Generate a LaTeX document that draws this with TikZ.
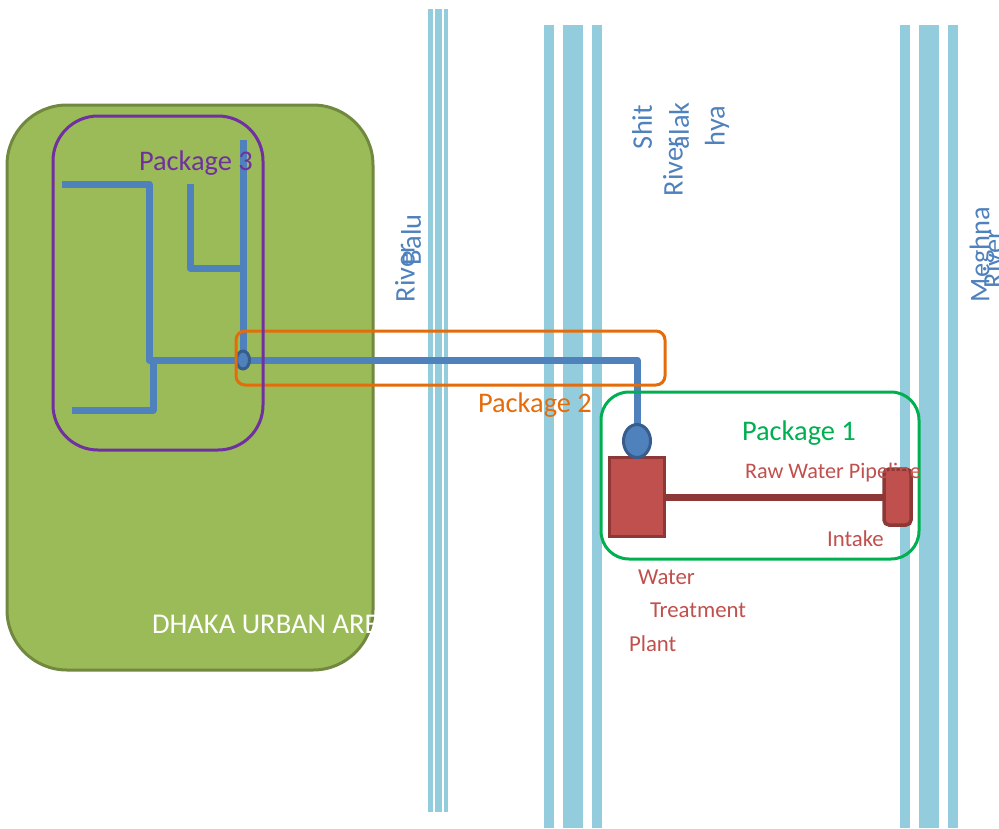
\documentclass[tikz,border=0pt]{standalone}
\usepackage{fontspec}
\setmainfont{Carlito}
\usetikzlibrary{shapes.geometric}
\definecolor{riv}{HTML}{93CDDD}
\definecolor{pipeblue}{HTML}{4F81BD}
\definecolor{pipeedge}{HTML}{385D8A}
\definecolor{landfill}{HTML}{9BBB59}
\definecolor{landedge}{HTML}{71893F}
\definecolor{redfill}{HTML}{C0504D}
\definecolor{rededge}{HTML}{8C3836}
\definecolor{pk1}{HTML}{00B050}
\definecolor{pk2}{HTML}{E46C0A}
\definecolor{pk3}{HTML}{7030A0}
\tikzset{
  river/.style={fill=riv,draw=none,rectangle,inner sep=0pt,outer sep=0pt},
  pipe/.style={draw=pipeblue,line width=7pt,line join=round},
  rawpipe/.style={draw=rededge,line width=7pt},
  pack/.style={rectangle,draw=#1,line width=3pt,inner sep=0pt,outer sep=0pt,fill=none},
  lab/.style={font=\fontsize{#1}{#1}\selectfont,inner sep=0pt,outer sep=0pt},
  rivlab/.style={lab=28.4,text=pipeblue,rotate=90},
  redlab/.style={lab=22.8,text=redfill},
}
\newcommand{\stripe}[5]{\node[river,minimum width=#3pt-#2pt,minimum height=#5pt-#4pt] (#1) at ({(#2+#3)/2},{(#4+#5)/2}) {};}
\begin{document}
\begin{tikzpicture}[x=1pt,y=-1pt]
\useasboundingbox (0,0) rectangle (999,828);
% rivers
\stripe{ba}{428}{433}{9}{812}
\stripe{bb}{435}{442}{9}{812}
\stripe{bc}{444}{448}{9}{812}
\stripe{sa}{544}{554}{25}{828}
\stripe{sb}{563}{583}{25}{828}
\stripe{sc}{592}{602}{25}{828}
\stripe{ma}{900}{910}{25}{828}
\stripe{mb}{919}{939}{25}{828}
\stripe{mc}{948}{958}{25}{828}
% land
\node[rectangle,fill=landfill,draw=landedge,line width=3pt,rounded corners=60pt,inner sep=0pt,minimum width=366pt,minimum height=565pt] (land) at (190,387.5) {};
\node[lab=28.6,text=white,anchor=west] (dhaka) at (152,624) {DHAKA URBAN AREA};
% junctions
\coordinate (a1) at (62,184);
\coordinate (a2) at (149,184);
\coordinate (a3) at (149,360);
\coordinate (b1) at (243,140);
\coordinate (c1) at (190,184);
\coordinate (c2) at (190,268);
\coordinate (c3) at (243,268);
\coordinate (d1) at (72,410);
\coordinate (d2) at (153,410);
\coordinate (d3) at (153,360);
\coordinate (e1) at (637,360);
% plant parts
\node[rectangle,fill=redfill,draw=rededge,line width=3.5pt,inner sep=0pt,outer sep=0pt,minimum width=55pt,minimum height=79pt] (wtp) at (637,497) {};
\node[rectangle,fill=redfill,draw=rededge,line width=3.5pt,rounded corners=5pt,inner sep=0pt,outer sep=0pt,minimum width=27pt,minimum height=56pt] (intake) at (897.5,497) {};
% pipes
\draw[pipe] (a1) -- (a2) -- (a3) -- (e1) -- (637,425);
\draw[pipe] (b1) -- (243,360);
\draw[pipe] (c1) -- (c2) -- (c3);
\draw[pipe] (d1) -- (d2) -- (d3);
\draw[rawpipe] (wtp.east) -- (intake.west);
\node[ellipse,fill=pipeblue,draw=pipeedge,line width=3pt,inner sep=0pt,outer sep=0pt,minimum width=27pt,minimum height=33pt] (res) at (637,441) {};
\node[ellipse,fill=pipeblue,draw=pipeedge,line width=3pt,inner sep=0pt,outer sep=0pt,minimum width=13pt,minimum height=18pt] (pump) at (243,360) {};
% packages
\node[pack=pk2,rounded corners=9pt,minimum width=429pt,minimum height=54pt] (p2) at (450.5,358) {};
\node[pack=pk3,rounded corners=45pt,minimum width=210pt,minimum height=334pt] (p3) at (158,283) {};
\node[pack=pk1,rounded corners=28pt,minimum width=318pt,minimum height=167pt] (p1) at (760,475.5) {};
% labels
\node[lab=28.4,text=pk3,anchor=west] (l3) at (139,163) {Package 3};
\node[lab=28.4,text=pk2,anchor=west] (l2) at (478,405) {Package 2};
\node[lab=28.4,text=pk1,anchor=west] (l1) at (742,433) {Package 1};
\node[lab=22.2,text=redfill,anchor=west] (raw) at (745,473) {Raw Water Pipeline};
\node[redlab,anchor=west] (int) at (827,539) {Intake};
\node[redlab,anchor=west] (w1) at (638,577) {Water};
\node[redlab,anchor=west] (w2) at (650,610) {Treatment};
\node[redlab,anchor=west] (w3) at (629,644) {Plant};
\node[rivlab,anchor=west] (r1) at (405,302) {River};
\node[rivlab,anchor=west] (r2) at (411,265) {Balu};
\node[rivlab,anchor=west] (r3) at (642,149) {Shit};
\node[rivlab,anchor=west] (r4) at (673,196) {River};
\node[rivlab,anchor=west] (r5) at (679,149) {alak};
\node[rivlab,anchor=west] (r6) at (717,146) {hya};
\node[rivlab,anchor=west] (r7) at (982,302) {Meghna};
\node[rivlab,anchor=west] (r8) at (993,288) {River};
\end{tikzpicture}
\end{document}
